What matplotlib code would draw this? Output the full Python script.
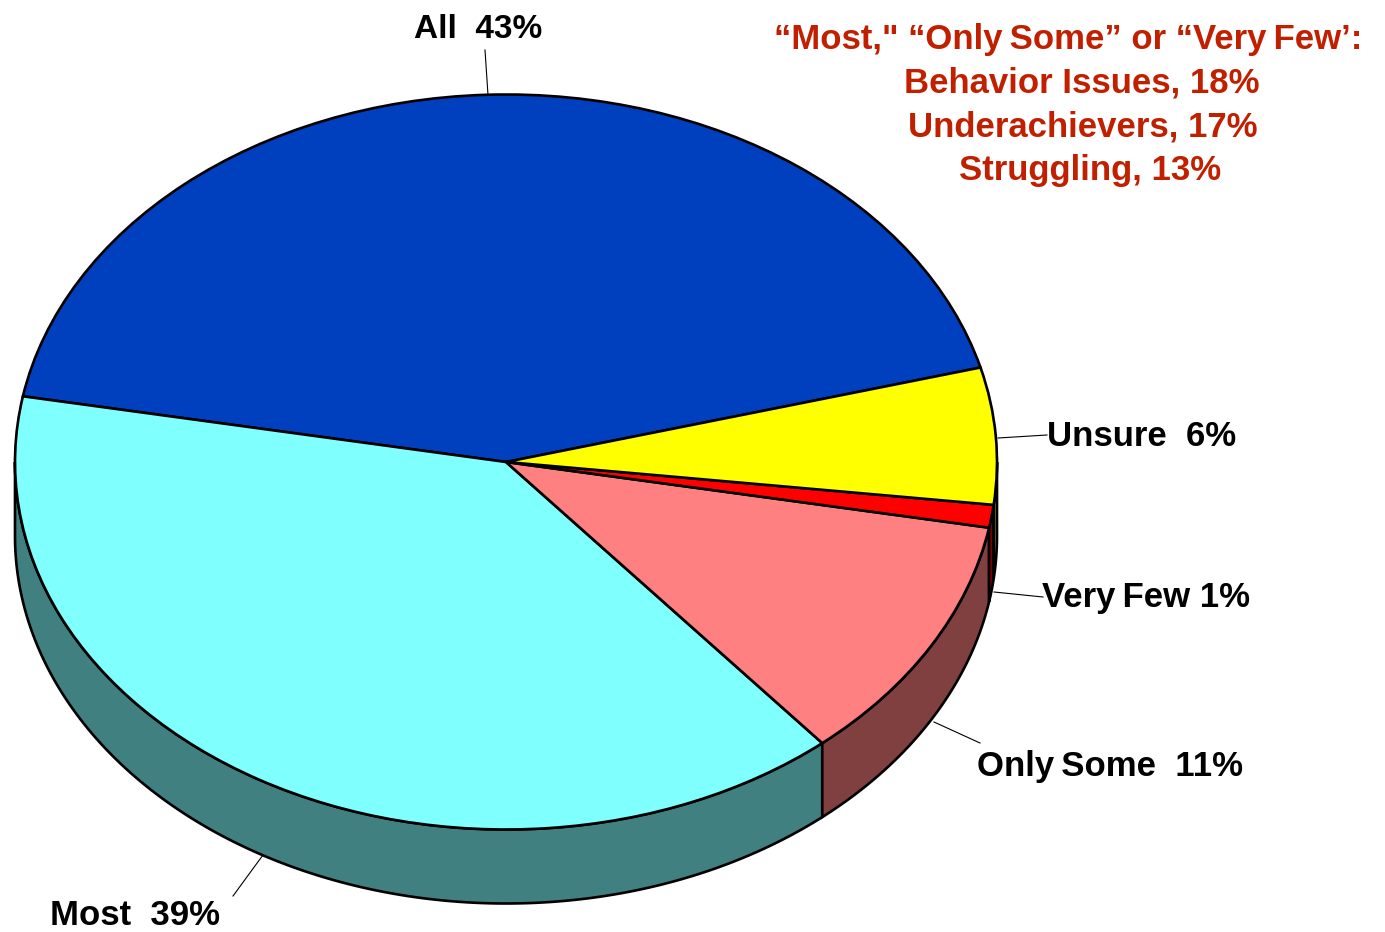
import numpy as np
import matplotlib
matplotlib.use('Agg')
import matplotlib.pyplot as plt
from matplotlib.lines import Line2D

plt.rcParams['font.family'] = ['Liberation Sans', 'DejaVu Sans']

W, H = 1385, 932

segments = ['All', 'Most', 'Only\u2009Some', 'Very\u2009Few', 'Unsure']
shares = [43, 39, 11, 1, 6]
top_colors = ['#0040BF', '#80FFFF', '#FF8080', '#FF0000', '#FFFF00']
side_colors = ['#002060', '#408080', '#804040', '#800000', '#808000']
notes = ['\u201cMost," \u201cOnly\u2009Some\u201d or \u201cVery\u2009Few\u2019:',
         'Behavior Issues, 18%', 'Underachievers, 17%', 'Struggling, 13%']

# pie ellipse in pixels
cx, cy, rx, ry, depth = 506, 462, 491, 367.5, 74
start = 14.9

fig = plt.figure(figsize=(W / 100, H / 100), dpi=100)
ax = fig.add_axes([0, 0, 1, 1])

ax.pie(shares, colors=top_colors, startangle=start, counterclock=True, radius=1,
       wedgeprops={'edgecolor': 'black', 'linewidth': 1.9, 'zorder': 3})
ax.set_aspect('auto')
ax.set_xlim(-cx / rx, (W - cx) / rx)
ax.set_ylim(-(H - cy) / ry, cy / ry)
ax.axis('off')

# side wall, only the front half shows
d = depth / ry
angles = start + np.cumsum([0] + shares) * 3.6
for i in range(len(shares)):
    lo, hi = max(angles[i], 180), min(angles[i + 1], 360)
    if hi <= lo:
        continue
    t = np.radians(np.linspace(lo, hi, 200))
    xs = np.concatenate([np.cos(t), np.cos(t[::-1])])
    ys = np.concatenate([np.sin(t), np.sin(t[::-1]) - d])
    ax.fill(xs, ys, facecolor=side_colors[i], edgecolor='black', linewidth=1.9, zorder=2)


def px_text(x, y, s, ha='left', color='black', size=25):
    fig.text(x / W, 1 - y / H, s, ha=ha, va='baseline', fontsize=size,
             fontweight='bold', color=color)


def leader(x0, y0, x1, y1):
    fig.add_artist(Line2D([x0 / W, x1 / W], [1 - y0 / H, 1 - y1 / H],
                          color='black', linewidth=0.8))


px_text(414, 38, f'{segments[0]}  {shares[0]}%', size=24)
px_text(50, 925, f'{segments[1]}  {shares[1]}%')
px_text(977, 776, f'{segments[2]}  {shares[2]}%')
px_text(1042, 607, f'{segments[3]} {shares[3]}%')
px_text(1047, 446, f'{segments[4]}  {shares[4]}%')

leader(485, 50, 488, 95)
leader(998, 438, 1047, 435)
leader(994, 592, 1043, 597)
leader(934, 722, 980, 743)
leader(263, 855, 233, 896)

for s, x, y in zip(notes, [1068, 1082, 1083, 1090], [49, 93, 137, 180]):
    px_text(x, y, s, ha='center', color='#C02000')

fig.savefig('out.png', dpi=100)
